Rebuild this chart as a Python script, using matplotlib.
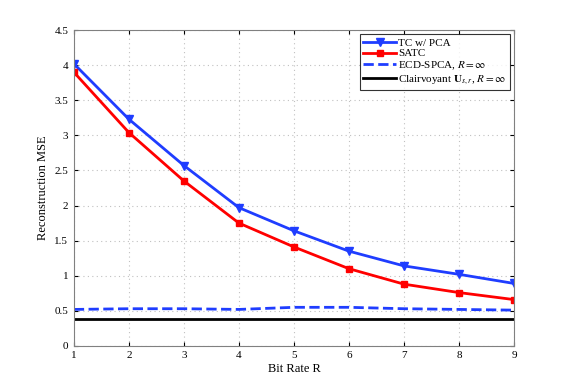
import numpy as np
import matplotlib
matplotlib.use('Agg')
import matplotlib.pyplot as plt

plt.rcParams['font.family'] = 'Liberation Serif'
plt.rcParams['mathtext.fontset'] = 'stix'

rates = [1, 2, 3, 4, 5, 6, 7, 8, 9]
tc_pca = [4.02, 3.23, 2.57, 1.97, 1.64, 1.35, 1.14, 1.02, 0.89]
satc = [3.90, 3.04, 2.35, 1.75, 1.41, 1.10, 0.88, 0.76, 0.66]
ecd_spca = [0.52, 0.53, 0.53, 0.52, 0.55, 0.55, 0.53, 0.52, 0.51]
clairvoyant = [0.39, 0.39, 0.39, 0.39, 0.39, 0.39, 0.39, 0.39, 0.39]

fig = plt.figure(figsize=(5.68, 3.90), dpi=100)
ax = fig.add_axes([0.130, 0.113, 0.775, 0.810])

ax.plot(rates, tc_pca, color='#1f3dff', lw=2, marker='v', ms=6, label='TC w/ PCA')
ax.plot(rates, satc, color='#ff0000', lw=2, marker='s', ms=5, label='SATC')
ax.plot(rates, ecd_spca, color='#1f3dff', lw=2, ls='--', label=r'ECD-SPCA, $R=\infty$')
ax.plot(rates, clairvoyant, color='black', lw=2, label=r'Clairvoyant $\mathbf{U}_{s,r}$, $R=\infty$')

ax.set_xlim(1, 9)
ax.set_ylim(0, 4.5)
ax.set_xticks(np.arange(1, 10))
ax.set_yticks(np.arange(0, 4.6, 0.5))
ax.set_yticklabels(['0', '0.5', '1', '1.5', '2', '2.5', '3', '3.5', '4', '4.5'])
ax.tick_params(labelsize=8, direction='in', top=True, right=True, length=3, pad=4)
ax.grid(True, ls=(0, (1, 3)), color='#c0c0c0', lw=0.8)
ax.set_axisbelow(True)
for s in ax.spines.values():
    s.set_color('#808080')

ax.set_xlabel('Bit Rate R', fontsize=9, labelpad=2)
ax.set_ylabel('Reconstruction MSE', fontsize=9)

leg = ax.legend(loc='upper right', fontsize=8, fancybox=False, edgecolor='black',
                handlelength=3, handletextpad=0.2, borderpad=0.3, labelspacing=0.1,
                borderaxespad=0.4)
leg.get_frame().set_linewidth(0.8)

plt.savefig('out.png', dpi=100)
